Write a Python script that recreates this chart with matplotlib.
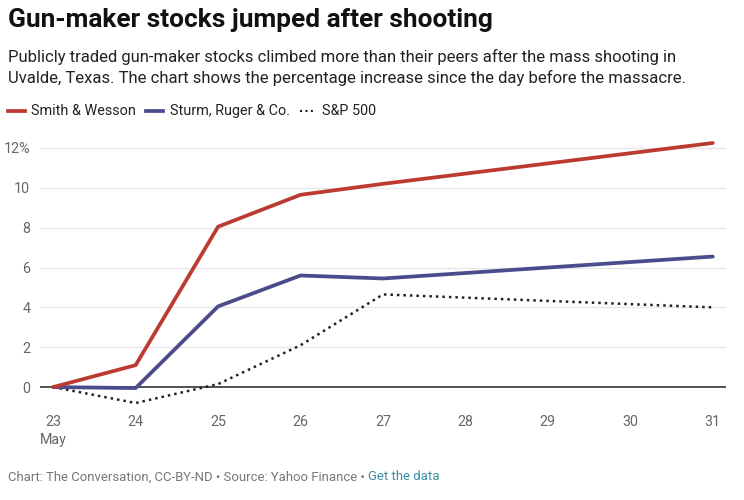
import matplotlib
matplotlib.use("Agg")
import matplotlib.pyplot as plt
from matplotlib.lines import Line2D

# ---- data ----
days = [23, 24, 25, 26, 27, 31]
smith_wesson = [0.0, 1.1, 8.05, 9.65, 10.2, 12.25]
sturm_ruger = [0.0, -0.05, 4.05, 5.6, 5.45, 6.55]
sp500 = [0.0, -0.8, 0.15, 2.1, 4.65, 4.0]
xticks = [23, 24, 25, 26, 27, 28, 29, 30, 31]
xticklabels = ["23\nMay", "24", "25", "26", "27", "28", "29", "30", "31"]
yticks = [0, 2, 4, 6, 8, 10, 12]
yticklabels = ["0", "2", "4", "6", "8", "10", "12%"]

RED = "#bb3b32"
BLUE = "#4a4c8c"
GRAY = "#666666"

plt.rcParams['font.family'] = ['Roboto', 'DejaVu Sans']

W, H = 744, 500
fig = plt.figure(figsize=(W / 100, H / 100), dpi=100)

def fx(px):
    return px / W

def fy(py):
    return 1 - py / H

ax = fig.add_axes([fx(40), fy(407), fx(726) - fx(40), fy(140) - fy(407)])
ax.set_xlim(22.84, 31.16)
ax.set_ylim(-1.0, 12.4)

for yv in yticks:
    if yv == 0:
        ax.axhline(yv, color="#222222", lw=1.1, zorder=2)
    else:
        ax.axhline(yv, color="#e8e8e8", lw=1.0, zorder=1)

ax.plot(days, sp500, color="#222222", lw=1.8, linestyle=(0, (1, 1.6)), zorder=3)
ax.plot(days, sturm_ruger, color=BLUE, lw=2.7, zorder=4, solid_capstyle="round", solid_joinstyle="round")
ax.plot(days, smith_wesson, color=RED, lw=2.7, zorder=5, solid_capstyle="round", solid_joinstyle="round")

for s in ax.spines.values():
    s.set_visible(False)
ax.set_xticks(xticks)
ax.set_xticklabels(xticklabels, fontsize=10.3, color=GRAY, linespacing=1.35)
ax.set_yticks(yticks)
ax.set_yticklabels(yticklabels, fontsize=10.3, color=GRAY)
ax.tick_params(axis="both", length=0)
ax.tick_params(axis="y", pad=7)
ax.tick_params(axis="x", pad=6)

# ---- title / subtitle ----
fig.text(fx(8), fy(20), "Gun-maker stocks jumped after shooting", fontsize=18.9,
         fontweight="bold", color="#111111", va="center", ha="left")
fig.text(fx(8), fy(57), "Publicly traded gun-maker stocks climbed more than their peers after the mass shooting in",
         fontsize=12.0, color="#222222", va="center", ha="left")
fig.text(fx(8), fy(78), "Uvalde, Texas. The chart shows the percentage increase since the day before the massacre.",
         fontsize=12.0, color="#222222", va="center", ha="left")

# ---- legend ----
ly = fy(111)
fig.add_artist(Line2D([fx(8), fx(25)], [ly, ly], color=RED, lw=2.7, transform=fig.transFigure))
fig.text(fx(31), ly, "Smith & Wesson", fontsize=10.4, color="#222222", va="center", ha="left")
fig.add_artist(Line2D([fx(146), fx(163)], [ly, ly], color=BLUE, lw=2.7, transform=fig.transFigure))
fig.text(fx(170), ly, "Sturm, Ruger & Co.", fontsize=10.4, color="#222222", va="center", ha="left")
fig.add_artist(Line2D([fx(300), fx(316)], [ly, ly], color="#222222", lw=1.5,
                      linestyle=(0, (1, 1.6)), transform=fig.transFigure))
fig.text(fx(322), ly, "S&P 500", fontsize=10.4, color="#222222", va="center", ha="left")

# ---- footer ----
t1 = fig.text(fx(8), fy(477), "Chart: The Conversation, CC-BY-ND \u2022 Source: Yahoo Finance \u2022 ",
              fontsize=9.45, color="#777777", va="center", ha="left")
fig.canvas.draw()
bb = t1.get_window_extent()
fig.text(bb.x1 / W, fy(477), "Get the data", fontsize=9.45, color="#3b8ea5", va="center", ha="left")

fig.savefig("out.png", dpi=100)
